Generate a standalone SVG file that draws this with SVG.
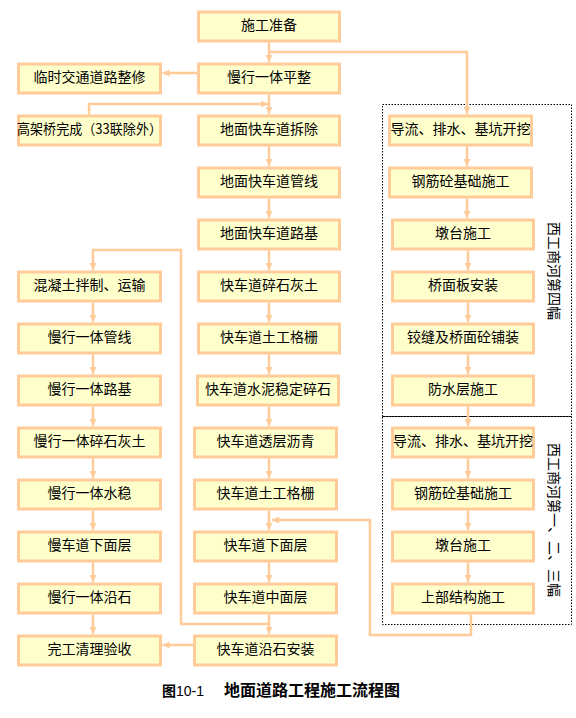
<svg xmlns="http://www.w3.org/2000/svg" width="576" height="718" viewBox="0 0 576 718">
<style>
.b{fill:#FFFFCC;stroke:#FFCC99;stroke-width:3}
.t{font-family:"Noto Sans CJK SC","Noto Sans",sans-serif;font-size:14px;fill:#000;text-anchor:middle}
.c{fill:none;stroke:#FFCC99;stroke-width:2.5}
.d{fill:none;stroke:#000;stroke-width:1;stroke-dasharray:1.5,1.5}
.v{font-family:"Noto Sans CJK SC","Noto Sans",sans-serif;font-size:14px;fill:#000}
.cap{font-family:"Noto Sans CJK SC","Liberation Sans",sans-serif;fill:#000}
</style>
<defs>
<marker id="ah" viewBox="0 0 7 7" refX="7" refY="3.5" markerWidth="7" markerHeight="7" markerUnits="userSpaceOnUse" orient="auto">
<path d="M0,0 L7,3.5 L0,7 z" fill="#FFCC99"/>
</marker>
</defs>

<g id="regions">
<rect class="d" x="382.5" y="104.5" width="189" height="312"/>
<rect class="d" x="382.5" y="416.5" width="189" height="208"/>
<text class="v" transform="translate(549,222) rotate(90)">西工商河第四幅</text>
<text class="v" transform="translate(549,443) rotate(90)">西工商河第一、二、三幅</text>
</g>

<g id="connectors">
<path class="c" d="M269,42.5 V62" marker-end="url(#ah)"/>
<path class="c" d="M269,52 H467 V114" marker-end="url(#ah)"/>
<path class="c" d="M197,73 H162.5" marker-end="url(#ah)"/>
<path class="c" d="M269,94.5 V114" marker-end="url(#ah)"/>
<path class="c" d="M89,114.5 V104 H268" marker-end="url(#ah)"/>
<path class="c" d="M269,146.5 V166" marker-end="url(#ah)"/>
<path class="c" d="M269,198.5 V218" marker-end="url(#ah)"/>
<path class="c" d="M269,250.5 V270" marker-end="url(#ah)"/>
<path class="c" d="M269,302.5 V322" marker-end="url(#ah)"/>
<path class="c" d="M269,354.5 V374" marker-end="url(#ah)"/>
<path class="c" d="M269,406.5 V426" marker-end="url(#ah)"/>
<path class="c" d="M269,458.5 V478" marker-end="url(#ah)"/>
<path class="c" d="M269,510.5 V530" marker-end="url(#ah)"/>
<path class="c" d="M269,562.5 V582" marker-end="url(#ah)"/>
<path class="c" d="M269,614.5 V634" marker-end="url(#ah)"/>
<path class="c" d="M467,146.5 V166" marker-end="url(#ah)"/>
<path class="c" d="M467,198.5 V218" marker-end="url(#ah)"/>
<path class="c" d="M468,250.5 V270" marker-end="url(#ah)"/>
<path class="c" d="M468,302.5 V322" marker-end="url(#ah)"/>
<path class="c" d="M468,354.5 V374" marker-end="url(#ah)"/>
<path class="c" d="M468,406.5 V426" marker-end="url(#ah)"/>
<path class="c" d="M468,458.5 V478" marker-end="url(#ah)"/>
<path class="c" d="M468,510.5 V530" marker-end="url(#ah)"/>
<path class="c" d="M468,562.5 V582" marker-end="url(#ah)"/>
<path class="c" d="M471,614.5 V635 H370 V520 H272" marker-end="url(#ah)"/>
<path class="c" d="M93,302.5 V322" marker-end="url(#ah)"/>
<path class="c" d="M93,354.5 V374" marker-end="url(#ah)"/>
<path class="c" d="M93,406.5 V426" marker-end="url(#ah)"/>
<path class="c" d="M93,458.5 V478" marker-end="url(#ah)"/>
<path class="c" d="M93,510.5 V530" marker-end="url(#ah)"/>
<path class="c" d="M93,562.5 V582" marker-end="url(#ah)"/>
<path class="c" d="M93,614.5 V634" marker-end="url(#ah)"/>
<path class="c" d="M269,624 H181 V250 H93 V270" marker-end="url(#ah)"/>
<path class="c" d="M193,645 H162.5" marker-end="url(#ah)"/>
</g>

<g id="n_shigongzhunbei"><rect class="b" x="198.5" y="12" width="141" height="29"/><text class="t" x="269" y="29.5">施工准备</text></g>
<g id="n_manxingpingzheng"><rect class="b" x="198.5" y="64" width="141" height="29"/><text class="t" x="269" y="81.5">慢行一体平整</text></g>
<g id="n_linshijiaotong"><rect class="b" x="18.5" y="64" width="142" height="29"/><text class="t" x="89.5" y="81.5">临时交通道路整修</text></g>
<g id="n_gaojiaqiao"><rect class="b" x="18.5" y="116" width="142" height="29"/><text class="t" x="17" y="133.5" style="text-anchor:start" textLength="145" lengthAdjust="spacingAndGlyphs">高架桥完成（33联除外）</text></g>
<g id="n_chaichu"><rect class="b" x="198.5" y="116" width="141" height="29"/><text class="t" x="269" y="133.5">地面快车道拆除</text></g>
<g id="n_guanxian"><rect class="b" x="198.5" y="168" width="141" height="29"/><text class="t" x="269" y="185.5">地面快车道管线</text></g>
<g id="n_luji"><rect class="b" x="198.5" y="220" width="141" height="29"/><text class="t" x="269" y="237.5">地面快车道路基</text></g>
<g id="n_suishihuitu"><rect class="b" x="198.5" y="272" width="141" height="29"/><text class="t" x="269" y="289.5">快车道碎石灰土</text></g>
<g id="n_tugonggeshan1"><rect class="b" x="198.5" y="324" width="141" height="29"/><text class="t" x="269" y="341.5">快车道土工格栅</text></g>
<g id="n_shuiniwending"><rect class="b" x="197.5" y="376" width="141" height="29"/><text class="t" x="268" y="393.5">快车道水泥稳定碎石</text></g>
<g id="n_toucengliqing"><rect class="b" x="194.5" y="428" width="142" height="29"/><text class="t" x="265.5" y="445.5">快车道透层沥青</text></g>
<g id="n_tugonggeshan2"><rect class="b" x="194.5" y="480" width="142" height="29"/><text class="t" x="265.5" y="497.5">快车道土工格栅</text></g>
<g id="n_kuaixiamian"><rect class="b" x="194.5" y="532" width="142" height="29"/><text class="t" x="265.5" y="549.5">快车道下面层</text></g>
<g id="n_kuaizhongmian"><rect class="b" x="194.5" y="584" width="142" height="29"/><text class="t" x="265.5" y="601.5">快车道中面层</text></g>
<g id="n_kuaiyanshi"><rect class="b" x="194.5" y="636" width="142" height="29"/><text class="t" x="265.5" y="653.5">快车道沿石安装</text></g>

<g id="n_hunningtu"><rect class="b" x="18.5" y="272" width="142" height="29"/><text class="t" x="89.5" y="289.5">混凝土拌制、运输</text></g>
<g id="n_manguanxian"><rect class="b" x="18.5" y="324" width="142" height="29"/><text class="t" x="89.5" y="341.5">慢行一体管线</text></g>
<g id="n_manluji"><rect class="b" x="18.5" y="376" width="142" height="29"/><text class="t" x="89.5" y="393.5">慢行一体路基</text></g>
<g id="n_mansuishi"><rect class="b" x="18.5" y="428" width="142" height="29"/><text class="t" x="89.5" y="445.5">慢行一体碎石灰土</text></g>
<g id="n_manshuiwen"><rect class="b" x="18.5" y="480" width="142" height="29"/><text class="t" x="89.5" y="497.5">慢行一体水稳</text></g>
<g id="n_manxiamian"><rect class="b" x="18.5" y="532" width="142" height="29"/><text class="t" x="89.5" y="549.5">慢车道下面层</text></g>
<g id="n_manyanshi"><rect class="b" x="18.5" y="584" width="142" height="29"/><text class="t" x="89.5" y="601.5">慢行一体沿石</text></g>
<g id="n_wangong"><rect class="b" x="18.5" y="636" width="142" height="29"/><text class="t" x="89.5" y="653.5">完工清理验收</text></g>

<g id="n_daoliu1"><rect class="b" x="389.5" y="116" width="142" height="29"/><text class="t" x="460.5" y="133.5">导流、排水、基坑开挖</text></g>
<g id="n_gangjin1"><rect class="b" x="389.5" y="168" width="142" height="29"/><text class="t" x="460.5" y="185.5">钢筋砼基础施工</text></g>
<g id="n_duntai1"><rect class="b" x="392.5" y="220" width="141" height="29"/><text class="t" x="463" y="237.5">墩台施工</text></g>
<g id="n_qiaomianban"><rect class="b" x="392.5" y="272" width="141" height="29"/><text class="t" x="463" y="289.5">桥面板安装</text></g>
<g id="n_jiaofeng"><rect class="b" x="392.5" y="324" width="141" height="29"/><text class="t" x="463" y="341.5">铰缝及桥面砼铺装</text></g>
<g id="n_fangshui"><rect class="b" x="392.5" y="376" width="141" height="29"/><text class="t" x="463" y="393.5">防水层施工</text></g>
<g id="n_daoliu2"><rect class="b" x="392.5" y="428" width="141" height="29"/><text class="t" x="463" y="445.5">导流、排水、基坑开挖</text></g>
<g id="n_gangjin2"><rect class="b" x="392.5" y="480" width="141" height="29"/><text class="t" x="463" y="497.5">钢筋砼基础施工</text></g>
<g id="n_duntai2"><rect class="b" x="392.5" y="532" width="141" height="29"/><text class="t" x="463" y="549.5">墩台施工</text></g>
<g id="n_shangbu"><rect class="b" x="392.5" y="584" width="141" height="29"/><text class="t" x="463" y="601.5">上部结构施工</text></g>

<g id="caption">
<text class="cap" x="162" y="696" font-size="14"><tspan font-weight="bold">图</tspan><tspan font-family="Liberation Sans">10-1</tspan></text>
<text class="cap" x="224" y="696" font-size="16" font-weight="bold">地面道路工程施工流程图</text>
</g>
</svg>
